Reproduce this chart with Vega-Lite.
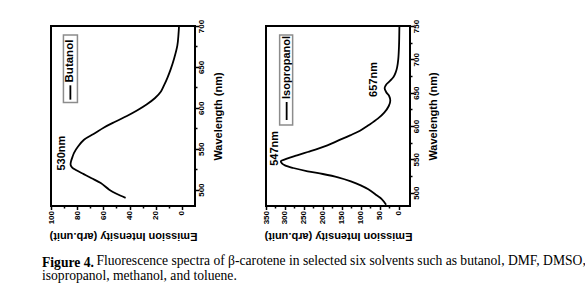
{
  "$schema": "https://vega.github.io/schema/vega-lite/v6.json",
  "background": "white",
  "padding": {"left": 42, "top": 18, "right": 0, "bottom": 0},
  "datasets": {
    "spectra": [
      {"solvent": "Butanol", "wavelength": 490, "intensity": 43},
      {"solvent": "Butanol", "wavelength": 495, "intensity": 50},
      {"solvent": "Butanol", "wavelength": 500, "intensity": 55.5},
      {"solvent": "Butanol", "wavelength": 508, "intensity": 62},
      {"solvent": "Butanol", "wavelength": 514, "intensity": 69},
      {"solvent": "Butanol", "wavelength": 519, "intensity": 75},
      {"solvent": "Butanol", "wavelength": 524, "intensity": 81},
      {"solvent": "Butanol", "wavelength": 527, "intensity": 83.8},
      {"solvent": "Butanol", "wavelength": 530, "intensity": 85},
      {"solvent": "Butanol", "wavelength": 534, "intensity": 84.8},
      {"solvent": "Butanol", "wavelength": 540, "intensity": 83.6},
      {"solvent": "Butanol", "wavelength": 545, "intensity": 82.4},
      {"solvent": "Butanol", "wavelength": 553, "intensity": 79.2},
      {"solvent": "Butanol", "wavelength": 561, "intensity": 74.8},
      {"solvent": "Butanol", "wavelength": 568, "intensity": 67.5},
      {"solvent": "Butanol", "wavelength": 576, "intensity": 59.5},
      {"solvent": "Butanol", "wavelength": 583, "intensity": 51},
      {"solvent": "Butanol", "wavelength": 590, "intensity": 42},
      {"solvent": "Butanol", "wavelength": 597, "intensity": 34},
      {"solvent": "Butanol", "wavelength": 604, "intensity": 27},
      {"solvent": "Butanol", "wavelength": 612, "intensity": 20.5},
      {"solvent": "Butanol", "wavelength": 620, "intensity": 16},
      {"solvent": "Butanol", "wavelength": 628, "intensity": 13.5},
      {"solvent": "Butanol", "wavelength": 637, "intensity": 11},
      {"solvent": "Butanol", "wavelength": 647, "intensity": 8.6},
      {"solvent": "Butanol", "wavelength": 660, "intensity": 6},
      {"solvent": "Butanol", "wavelength": 676, "intensity": 3.5},
      {"solvent": "Butanol", "wavelength": 690, "intensity": 2.6},
      {"solvent": "Butanol", "wavelength": 700, "intensity": 2.2},
      {"solvent": "Isopropanol", "wavelength": 482, "intensity": 33},
      {"solvent": "Isopropanol", "wavelength": 490, "intensity": 44},
      {"solvent": "Isopropanol", "wavelength": 496, "intensity": 58},
      {"solvent": "Isopropanol", "wavelength": 505, "intensity": 80},
      {"solvent": "Isopropanol", "wavelength": 511, "intensity": 100},
      {"solvent": "Isopropanol", "wavelength": 517, "intensity": 126},
      {"solvent": "Isopropanol", "wavelength": 523, "intensity": 160},
      {"solvent": "Isopropanol", "wavelength": 528, "intensity": 200},
      {"solvent": "Isopropanol", "wavelength": 532, "intensity": 240},
      {"solvent": "Isopropanol", "wavelength": 537, "intensity": 278},
      {"solvent": "Isopropanol", "wavelength": 541, "intensity": 300},
      {"solvent": "Isopropanol", "wavelength": 544, "intensity": 308},
      {"solvent": "Isopropanol", "wavelength": 547, "intensity": 311},
      {"solvent": "Isopropanol", "wavelength": 550, "intensity": 300},
      {"solvent": "Isopropanol", "wavelength": 553, "intensity": 285},
      {"solvent": "Isopropanol", "wavelength": 556, "intensity": 268},
      {"solvent": "Isopropanol", "wavelength": 561, "intensity": 240},
      {"solvent": "Isopropanol", "wavelength": 566, "intensity": 212},
      {"solvent": "Isopropanol", "wavelength": 571, "intensity": 188},
      {"solvent": "Isopropanol", "wavelength": 578, "intensity": 160},
      {"solvent": "Isopropanol", "wavelength": 586, "intensity": 128},
      {"solvent": "Isopropanol", "wavelength": 593, "intensity": 102},
      {"solvent": "Isopropanol", "wavelength": 601, "intensity": 80},
      {"solvent": "Isopropanol", "wavelength": 611, "intensity": 55},
      {"solvent": "Isopropanol", "wavelength": 620, "intensity": 38},
      {"solvent": "Isopropanol", "wavelength": 630, "intensity": 26},
      {"solvent": "Isopropanol", "wavelength": 638, "intensity": 22},
      {"solvent": "Isopropanol", "wavelength": 645, "intensity": 25},
      {"solvent": "Isopropanol", "wavelength": 651, "intensity": 33},
      {"solvent": "Isopropanol", "wavelength": 657, "intensity": 37},
      {"solvent": "Isopropanol", "wavelength": 662, "intensity": 33},
      {"solvent": "Isopropanol", "wavelength": 667, "intensity": 24},
      {"solvent": "Isopropanol", "wavelength": 673, "intensity": 14},
      {"solvent": "Isopropanol", "wavelength": 680, "intensity": 8},
      {"solvent": "Isopropanol", "wavelength": 688, "intensity": 4},
      {"solvent": "Isopropanol", "wavelength": 700, "intensity": 1},
      {"solvent": "Isopropanol", "wavelength": 720, "intensity": -1},
      {"solvent": "Isopropanol", "wavelength": 750, "intensity": -2}
    ],
    "peaks": [
      {"solvent": "Butanol", "wavelength": 530, "intensity": 85},
      {"solvent": "Isopropanol", "wavelength": 547, "intensity": 311},
      {"solvent": "Isopropanol", "wavelength": 657, "intensity": 37}
    ],
    "legend": [{}]
  },
  "spacing": 36,
  "hconcat": [
    {
      "width": 144,
      "height": 180,
      "encoding": {
        "x": {
          "type": "quantitative",
          "scale": {"domain": [-10, 100], "reverse": true, "nice": false, "zero": false},
          "axis": {
            "orient": "bottom",
            "title": "Emission Intensity (arb.unit)",
            "values": [0, 10, 20, 30, 40, 50, 60, 70, 80, 90, 100],
            "labelExpr": "datum.value % 20 === 0 ? datum.label : ''",
            "tickSize": {"condition": {"test": "datum.value % 20 === 0", "value": 3.5}, "value": 2},
            "labelAngle": -90, "labelAlign": "right", "labelBaseline": "middle", "labelPadding": 1,
            "titleAngle": 180, "titleBaseline": "bottom", "titlePadding": 7
          }
        },
        "y": {
          "type": "quantitative",
          "scale": {"domain": [480, 700], "nice": false, "zero": false},
          "axis": {
            "orient": "right",
            "title": "Wavelength (nm)",
            "values": [500, 525, 550, 575, 600, 625, 650, 675, 700],
            "labelExpr": "datum.value % 50 === 0 ? datum.label : ''",
            "tickSize": {"condition": {"test": "datum.value % 50 === 0", "value": 3.5}, "value": 2},
            "labelAngle": -90, "labelAlign": "center", "labelBaseline": "top", "labelPadding": -1,
            "titleAngle": -90, "titleBaseline": "top", "titlePadding": 7
          }
        }
      },
      "layer": [
        {
          "data": {"name": "spectra"},
          "transform": [{"filter": "datum.solvent === 'Butanol'"}],
          "mark": {"type": "line", "color": "black", "strokeWidth": 1.8, "interpolate": "catmull-rom"},
          "encoding": {
            "x": {"field": "intensity", "type": "quantitative"},
            "y": {"field": "wavelength", "type": "quantitative"},
            "order": {"field": "wavelength", "type": "quantitative"}
          }
        },
        {
          "data": {"name": "peaks"},
          "transform": [
            {"filter": "datum.solvent === 'Butanol'"},
            {"calculate": "datum.wavelength + 'nm'", "as": "label"}
          ],
          "mark": {"type": "text", "angle": -90, "align": "center", "baseline": "bottom", "dx": 12, "dy": -4, "font": "Liberation Sans", "fontWeight": "bold", "fontSize": 11, "color": "black"},
          "encoding": {
            "x": {"field": "intensity", "type": "quantitative"},
            "y": {"field": "wavelength", "type": "quantitative"},
            "text": {"field": "label"}
          }
        },
        {
          "data": {"name": "legend"},
          "mark": {"type": "rect", "fill": "white", "stroke": "#8c8c8c", "strokeWidth": 1.5},
          "encoding": {
            "x": {"datum": 90.5}, "x2": {"datum": 79.8},
            "y": {"datum": 606.6}, "y2": {"datum": 689}
          }
        },
        {
          "data": {"name": "legend"},
          "mark": {"type": "rule", "color": "black", "strokeWidth": 1.8},
          "encoding": {
            "x": {"datum": 85.2},
            "y": {"datum": 610}, "y2": {"datum": 627.5}
          }
        },
        {
          "data": {"name": "legend"},
          "mark": {"type": "text", "text": "Butanol", "angle": -90, "align": "left", "baseline": "middle", "font": "Liberation Sans", "fontWeight": "bold", "fontSize": 11.5, "color": "black"},
          "encoding": {
            "x": {"datum": 85.2},
            "y": {"datum": 631}
          }
        }
      ]
    },
    {
      "width": 144,
      "height": 180,
      "encoding": {
        "x": {
          "type": "quantitative",
          "scale": {"domain": [-30, 350], "reverse": true, "nice": false, "zero": false},
          "axis": {
            "orient": "bottom",
            "title": "Emission Intensity (arb.unit)",
            "values": [0, 25, 50, 75, 100, 125, 150, 175, 200, 225, 250, 275, 300, 325, 350],
            "labelExpr": "datum.value % 50 === 0 ? datum.label : ''",
            "tickSize": {"condition": {"test": "datum.value % 50 === 0", "value": 3.5}, "value": 2},
            "labelAngle": -90, "labelAlign": "right", "labelBaseline": "middle", "labelPadding": 1,
            "titleAngle": 180, "titleBaseline": "bottom", "titlePadding": 7
          }
        },
        "y": {
          "type": "quantitative",
          "scale": {"domain": [480, 750], "nice": false, "zero": false},
          "axis": {
            "orient": "right",
            "title": "Wavelength (nm)",
            "values": [500, 525, 550, 575, 600, 625, 650, 675, 700, 725, 750],
            "labelExpr": "datum.value % 50 === 0 ? datum.label : ''",
            "tickSize": {"condition": {"test": "datum.value % 50 === 0", "value": 3.5}, "value": 2},
            "labelAngle": -90, "labelAlign": "center", "labelBaseline": "top", "labelPadding": -1,
            "titleAngle": -90, "titleBaseline": "top", "titlePadding": 7
          }
        }
      },
      "layer": [
        {
          "data": {"name": "spectra"},
          "transform": [{"filter": "datum.solvent === 'Isopropanol'"}],
          "mark": {"type": "line", "color": "black", "strokeWidth": 1.8, "interpolate": "catmull-rom"},
          "encoding": {
            "x": {"field": "intensity", "type": "quantitative"},
            "y": {"field": "wavelength", "type": "quantitative"},
            "order": {"field": "wavelength", "type": "quantitative"}
          }
        },
        {
          "data": {"name": "peaks"},
          "transform": [
            {"filter": "datum.solvent === 'Isopropanol' && datum.wavelength < 600"},
            {"calculate": "datum.wavelength + 'nm'", "as": "label"}
          ],
          "mark": {"type": "text", "angle": -90, "align": "center", "baseline": "bottom", "dx": 13, "dy": -1, "font": "Liberation Sans", "fontWeight": "bold", "fontSize": 11, "color": "black"},
          "encoding": {
            "x": {"field": "intensity", "type": "quantitative"},
            "y": {"field": "wavelength", "type": "quantitative"},
            "text": {"field": "label"}
          }
        },
        {
          "data": {"name": "peaks"},
          "transform": [
            {"filter": "datum.solvent === 'Isopropanol' && datum.wavelength > 600"},
            {"calculate": "datum.wavelength + 'nm'", "as": "label"}
          ],
          "mark": {"type": "text", "angle": -90, "align": "center", "baseline": "bottom", "dx": 8.5, "dy": -6, "font": "Liberation Sans", "fontWeight": "bold", "fontSize": 11, "color": "black"},
          "encoding": {
            "x": {"field": "intensity", "type": "quantitative"},
            "y": {"field": "wavelength", "type": "quantitative"},
            "text": {"field": "label"}
          }
        },
        {
          "data": {"name": "legend"},
          "mark": {"type": "rect", "fill": "white", "stroke": "#8c8c8c", "strokeWidth": 1.5},
          "encoding": {
            "x": {"datum": 314}, "x2": {"datum": 279.7},
            "y": {"datum": 601.6}, "y2": {"datum": 736.5}
          }
        },
        {
          "data": {"name": "legend"},
          "mark": {"type": "rule", "color": "black", "strokeWidth": 1.8},
          "encoding": {
            "x": {"datum": 295.5},
            "y": {"datum": 609}, "y2": {"datum": 636}
          }
        },
        {
          "data": {"name": "legend"},
          "mark": {"type": "text", "text": "Isopropanol", "angle": -90, "align": "left", "baseline": "middle", "font": "Liberation Sans", "fontWeight": "bold", "fontSize": 11, "color": "black"},
          "encoding": {
            "x": {"datum": 295.5},
            "y": {"datum": 640.6}
          }
        }
      ]
    }
  ],
  "title": {
    "text": "Figure 4.",
    "subtitle": [
      "\u200b\u00a0\u00a0\u00a0\u00a0\u00a0\u00a0\u00a0\u00a0\u00a0\u00a0\u00a0\u00a0\u00a0\u00a0\u00a0\u00a0Fluorescence spectra of β-carotene in selected six solvents such as butanol, DMF, DMSO,",
      "isopropanol, methanol, and toluene."
    ],
    "orient": "bottom",
    "anchor": "start",
    "offset": 13,
    "dx": -4,
    "font": "Liberation Serif",
    "fontSize": 13.6,
    "fontWeight": "bold",
    "color": "black",
    "subtitleFont": "Liberation Serif",
    "subtitleFontSize": 13.6,
    "subtitleFontWeight": "normal",
    "subtitleColor": "black",
    "subtitleLineHeight": 14.5,
    "subtitlePadding": -15
  },
  "config": {
    "view": {"stroke": "black", "strokeWidth": 2},
    "axis": {
      "domain": false,
      "grid": false,
      "tickColor": "black",
      "tickWidth": 1.5,
      "labelColor": "black",
      "labelFont": "Liberation Sans",
      "labelFontWeight": "bold",
      "labelFontSize": 8,
      "titleColor": "black",
      "titleFont": "Liberation Sans",
      "titleFontWeight": "bold",
      "titleFontSize": 11
    }
  }
}
